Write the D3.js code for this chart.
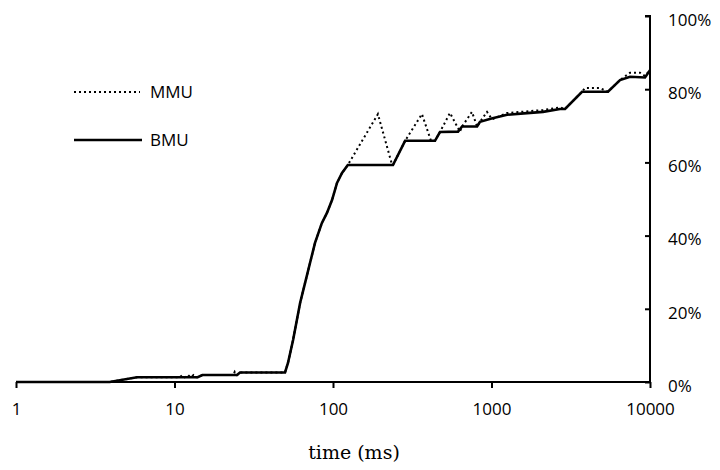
<!DOCTYPE html>
<html>
<head>
<meta charset="utf-8">
<script src="https://cdn.jsdelivr.net/npm/d3@7"></script>
<style>
  body { margin: 0; background: #fff; }
  .tick-label { font-family: "Open Sans", sans-serif; font-size: 17px; fill: #000; }
  .axis-title { font-family: "DejaVu Serif", serif; font-size: 19px; fill: #000; }
</style>
</head>
<body>
<div id="chart"></div>
<script>
// time in ms, utilisation in %
const bmuTime = [1, 3.9, 5.8, 14, 15, 24.8, 25.9, 49.8, 52, 56, 62, 66.6, 71.6, 77, 85, 91.6, 98.6, 106, 114, 124,
  239, 285, 440, 473, 615, 652, 811, 846, 1000, 1254, 1600, 2114, 2705, 2911, 3726, 5432, 6470, 7480, 9300, 10000];
const bmuValue = [0, 0, 1.3, 1.3, 1.9, 1.9, 2.6, 2.6, 5.2, 11.5, 21.6, 27, 32.5, 38, 43.4, 46.2, 49.7, 54.4, 57.1, 59.3,
  59.3, 65.9, 65.9, 68.3, 68.4, 69.8, 69.8, 71.1, 72, 73, 73.4, 73.8, 74.6, 74.6, 79.3, 79.3, 82.5, 83.4, 83.2, 85.2];

const mmuTime = [1, 3.9, 5.8, 10.8, 11.2, 11.6, 12.2, 12.6, 13.2, 13.6, 14, 15, 23.5, 24, 24.8, 25.9, 49.8, 52, 56, 62,
  66.6, 71.6, 77, 85, 91.6, 98.6, 106, 114, 124, 192, 236, 239, 285, 364, 415, 440, 473, 547, 632, 652, 753, 811,
  846, 937, 1007, 1254, 2114, 2705, 2911, 3726, 3890, 4840, 5432, 6470, 7480, 8650, 9300, 10000];
const mmuValue = [0, 0, 1.3, 1.3, 1.9, 1.3, 1.9, 1.3, 1.9, 1.3, 1.3, 1.9, 1.9, 2.8, 1.9, 2.6, 2.6, 5.2, 11.5, 21.6,
  27, 32.5, 38, 43.4, 46.2, 49.7, 54.4, 57.1, 59.3, 73.2, 59.3, 59.3, 65.9, 73.2, 65.9, 65.9, 68.3, 73.5, 68.4, 69.8, 73.8, 69.8,
  71.1, 73.8, 71.8, 73.5, 74.3, 75, 74.6, 79.3, 80.3, 80.3, 79.3, 82.5, 84.5, 84.5, 83.6, 85.2];

const xTicks = [1, 10, 100, 1000, 10000];
const yTicks = [0, 20, 40, 60, 80, 100];

const width = 720, height = 470;
const plot = { left: 16, right: 650, top: 16, bottom: 382 };

const svg = d3.select("#chart").append("svg")
  .attr("width", width)
  .attr("height", height);

const x = d3.scaleLog().domain([1, 10000]).range([plot.left, plot.right]);
const y = d3.scaleLinear().domain([0, 100]).range([plot.bottom, plot.top]);

// x axis along the bottom
const xAxis = svg.append("g")
  .attr("transform", `translate(0,${plot.bottom})`)
  .call(d3.axisBottom(x).tickValues(xTicks).tickSize(6).tickFormat(d3.format("d")).tickPadding(12));
xAxis.select(".domain").attr("stroke-width", 2).attr("d", `M${plot.left},0H${plot.right}`);
xAxis.selectAll(".tick line").attr("stroke-width", 2);
xAxis.selectAll(".tick text").attr("class", "tick-label").attr("dy", "0.9em");

// y axis on the right, ticks pointing inward
const yAxis = svg.append("g")
  .attr("transform", `translate(${plot.right},0)`)
  .call(d3.axisRight(y).tickValues(yTicks).tickSize(-5).tickFormat(d => d + "%").tickPadding(18));
yAxis.select(".domain").attr("stroke-width", 2).attr("d", `M-5,${plot.top}H0V${plot.bottom}`);
yAxis.selectAll(".tick line").attr("stroke-width", 2);
yAxis.selectAll(".tick text").attr("class", "tick-label").attr("dy", "0.55em");

const line = d3.line()
  .x(d => x(d[0]))
  .y(d => y(d[1]));

const mmu = mmuTime.map((t, i) => [t, mmuValue[i]]);
const bmu = bmuTime.map((t, i) => [t, bmuValue[i]]);

svg.append("path")
  .datum(mmu)
  .attr("d", line)
  .attr("fill", "none")
  .attr("stroke", "#000")
  .attr("stroke-width", 2)
  .attr("stroke-dasharray", "2,3");

svg.append("path")
  .datum(bmu)
  .attr("d", line)
  .attr("fill", "none")
  .attr("stroke", "#000")
  .attr("stroke-width", 2.6);

// legend
const legend = svg.append("g");
legend.append("line").attr("x1", 74).attr("x2", 140).attr("y1", 92).attr("y2", 92)
  .attr("stroke", "#000").attr("stroke-width", 2).attr("stroke-dasharray", "2,3");
legend.append("text").attr("class", "tick-label").attr("x", 150).attr("y", 92).attr("dy", "0.35em").text("MMU");
legend.append("line").attr("x1", 74).attr("x2", 142).attr("y1", 140).attr("y2", 140)
  .attr("stroke", "#000").attr("stroke-width", 2.6);
legend.append("text").attr("class", "tick-label").attr("x", 150).attr("y", 140).attr("dy", "0.35em").text("BMU");

svg.append("text")
  .attr("class", "axis-title")
  .attr("x", 354)
  .attr("y", 459)
  .attr("text-anchor", "middle")
  .text("time (ms)");
</script>
</body>
</html>
